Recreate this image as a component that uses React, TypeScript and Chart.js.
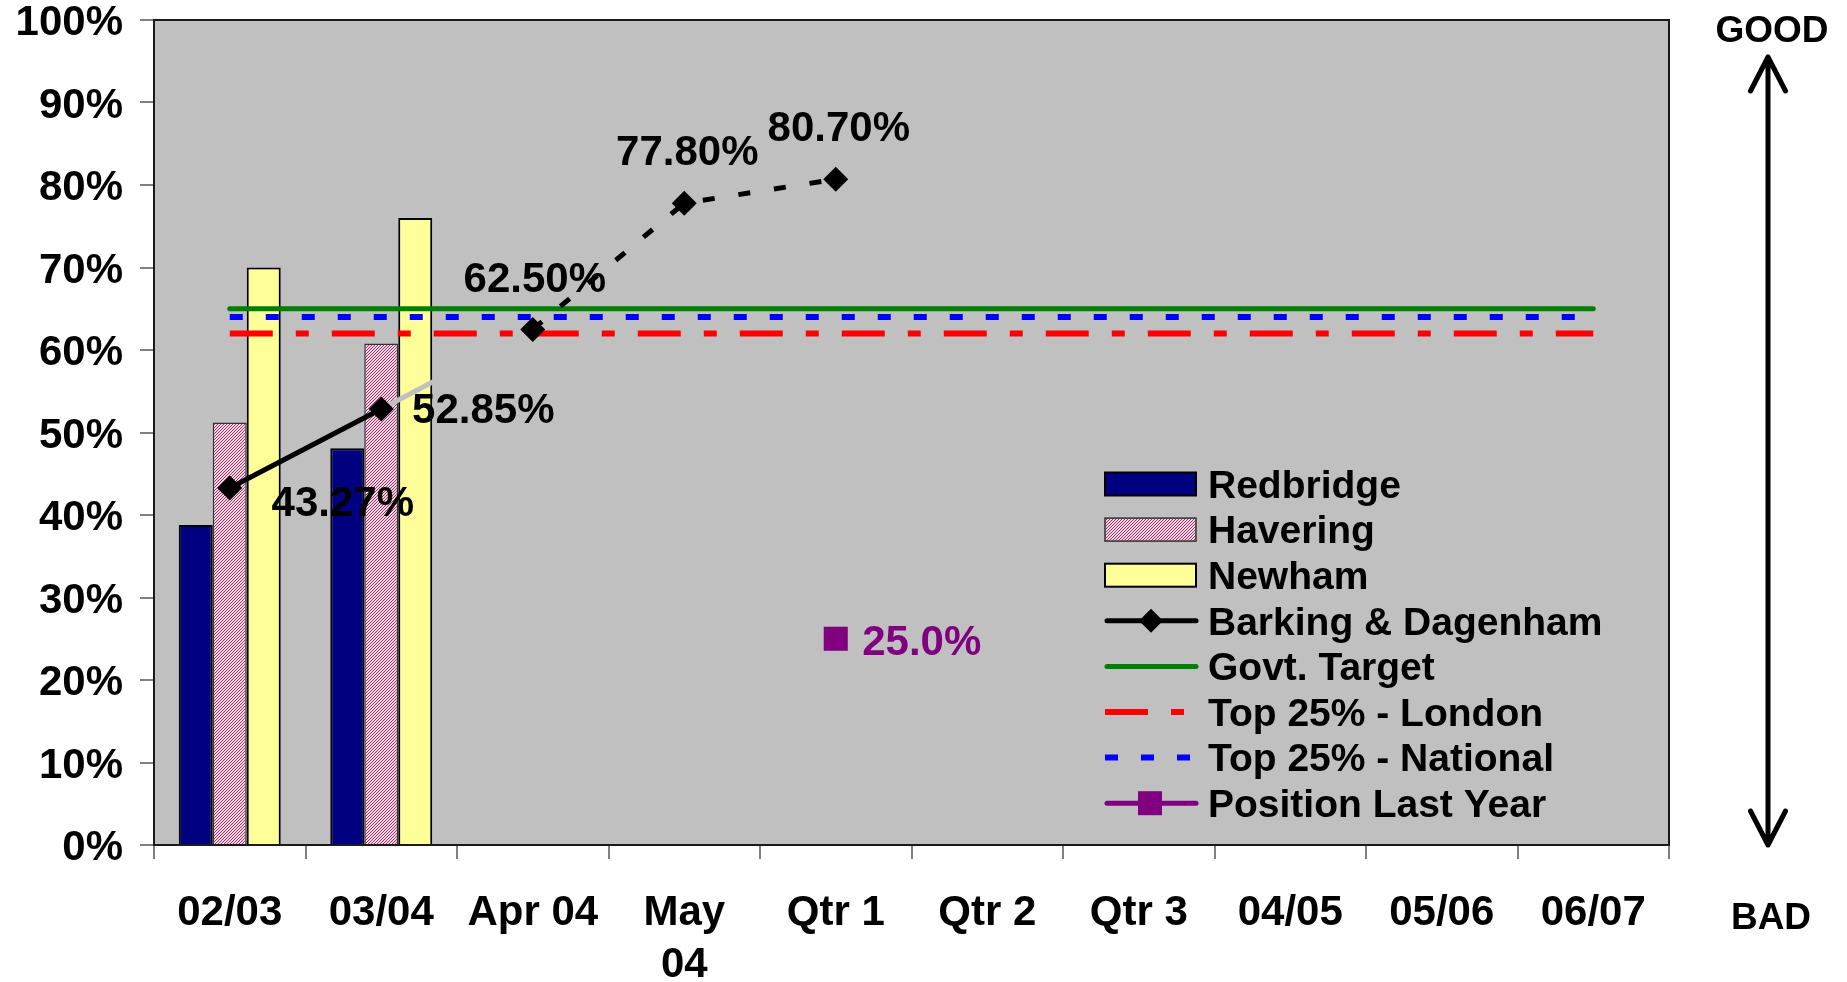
import { useEffect, useRef } from 'react';
import { Chart, registerables } from 'chart.js';

Chart.register(...registerables);

// ---------- data ----------
const categories: (string | string[])[] = ['02/03', '03/04', 'Apr 04', ['May', '04'], 'Qtr 1', 'Qtr 2', 'Qtr 3', '04/05', '05/06', '06/07'];
const redbridge = [38.8, 48.1, null, null, null, null, null, null, null, null];
const havering = [51.2, 60.8, null, null, null, null, null, null, null, null];
const newham = [70.0, 76.0, null, null, null, null, null, null, null, null];
const barking = [43.27, 52.85, 62.5, 77.8, 80.7, null, null, null, null, null];
const barkingLabels = ['43.27%', '52.85%', '62.50%', '77.80%', '80.70%'];
const govtTarget = [65, 65, 65, 65, 65, 65, 65, 65, 65, 65];
const top25London = [62, 62, 62, 62, 62, 62, 62, 62, 62, 62];
const top25National = [64, 64, 64, 64, 64, 64, 64, 64, 64, 64];
const positionLastYear = [null, null, null, null, 25, null, null, null, null, null];
const positionLabel = '25.0%';
const yTicks = [0, 10, 20, 30, 40, 50, 60, 70, 80, 90, 100];

const FONT = "'Liberation Sans', Arial, Helvetica, sans-serif";
const PLOT_BG = '#C0C0C0';

export default function App() {
  const ref = useRef<HTMLCanvasElement>(null);

  useEffect(() => {
    document.body.style.margin = '0';
    document.body.style.overflow = 'hidden';
    const canvas = ref.current!;
    const ctx0 = canvas.getContext('2d')!;

    // Havering hatch pattern
    const tile = document.createElement('canvas');
    tile.width = 3;
    tile.height = 3;
    const t = tile.getContext('2d')!;
    t.fillStyle = '#F4D6E4';
    t.fillRect(0, 0, 3, 3);
    t.fillStyle = '#993366';
    t.fillRect(2, 0, 1, 1);
    t.fillRect(1, 1, 1, 1);
    t.fillRect(0, 2, 1, 1);
    const hatch = ctx0.createPattern(tile, 'repeat')!;

    const TY = 3.5; // text vertical nudge

    const bgPlugin = {
      id: 'plotBg',
      beforeDraw(chart: any) {
        const { ctx, chartArea: a } = chart;
        ctx.save();
        ctx.fillStyle = '#FFFFFF';
        ctx.fillRect(0, 0, chart.width, chart.height);
        ctx.fillStyle = PLOT_BG;
        ctx.fillRect(a.left, a.top, a.right - a.left, a.bottom - a.top);
        ctx.restore();
      },
      beforeDatasetsDraw(chart: any) {
        const { ctx, chartArea: a } = chart;
        ctx.save();
        ctx.strokeStyle = '#1A1A1A';
        ctx.lineWidth = 2;
        ctx.strokeRect(a.left, a.top, a.right - a.left, a.bottom - a.top);
        ctx.restore();
      },
    };

    const labelPlugin = {
      id: 'valueLabels',
      afterDatasetsDraw(chart: any) {
        const { ctx } = chart;
        ctx.save();
        ctx.font = `bold 42px ${FONT}`;
        ctx.textAlign = 'center';
        ctx.textBaseline = 'middle';
        const offs = [[113, 12.5], [102, -1.5], [2, -52], [3, -53], [3, -53]];
        const bMeta = chart.getDatasetMeta(3);
        ctx.fillStyle = '#000000';
        barkingLabels.forEach((txt, i) => {
          const el = bMeta.data[i];
          if (!el || barking[i] == null) return;
          ctx.fillText(txt, el.x + offs[i][0], el.y + offs[i][1] + TY);
        });
        const pMeta = chart.getDatasetMeta(7);
        positionLastYear.forEach((v, i) => {
          if (v == null) return;
          const el = pMeta.data[i];
          ctx.fillStyle = '#800080';
          ctx.fillText(positionLabel, el.x + 86, el.y + 1 + TY);
        });
        ctx.restore();
      },
    };

    const legendPlugin = {
      id: 'customLegend',
      afterDraw(chart: any) {
        const { ctx, chartArea: a } = chart;
        const x0 = a.left + 951;
        const y0 = a.top + 464;
        const step = 45.6;
        const sw = 91;
        ctx.save();
        chart.data.datasets.forEach((ds: any, i: number) => {
          const y = y0 + i * step;
          ctx.setLineDash([]);
          if (ds.type === 'bar') {
            ctx.fillStyle = ds.backgroundColor;
            ctx.fillRect(x0, y - 11.5, sw, 23);
            ctx.strokeStyle = ds.borderColor;
            ctx.lineWidth = ds.borderWidth;
            ctx.strokeRect(x0, y - 11.5, sw, 23);
          } else {
            ctx.strokeStyle = ds.borderColor;
            ctx.lineWidth = ds.borderWidth;
            ctx.lineCap = ds.legendCap || 'butt';
            if (ds.borderDash) ctx.setLineDash(ds.borderDash);
            ctx.beginPath();
            ctx.moveTo(x0 + (ds.legendCap === 'round' ? 2 : 0), y);
            ctx.lineTo(x0 + sw, y);
            ctx.stroke();
            ctx.setLineDash([]);
            if (ds.legendMarker === 'diamond') {
              const cx = x0 + 46;
              ctx.fillStyle = '#000000';
              ctx.beginPath();
              ctx.moveTo(cx - 12, y);
              ctx.lineTo(cx, y - 12);
              ctx.lineTo(cx + 12, y);
              ctx.lineTo(cx, y + 12);
              ctx.closePath();
              ctx.fill();
            } else if (ds.legendMarker === 'square') {
              ctx.fillStyle = ds.pointBackgroundColor;
              ctx.fillRect(x0 + 33, y - 12, 24, 24);
            }
          }
          ctx.fillStyle = '#000000';
          ctx.font = `bold 39px ${FONT}`;
          ctx.textAlign = 'left';
          ctx.textBaseline = 'middle';
          ctx.fillText(ds.label, x0 + 103, y + 3);
        });
        ctx.restore();
      },
    };

    const arrowPlugin = {
      id: 'goodBad',
      afterDraw(chart: any) {
        const { ctx, chartArea: a } = chart;
        const ax = a.right + 99;
        const top = a.top + 37;
        const bot = a.bottom;
        ctx.save();
        ctx.strokeStyle = '#000000';
        ctx.lineWidth = 5;
        ctx.lineCap = 'round';
        ctx.lineJoin = 'round';
        ctx.beginPath();
        ctx.moveTo(ax, top);
        ctx.lineTo(ax, bot);
        ctx.moveTo(ax - 17.5, top + 34);
        ctx.lineTo(ax, top);
        ctx.lineTo(ax + 17.5, top + 34);
        ctx.moveTo(ax - 17.5, bot - 34);
        ctx.lineTo(ax, bot);
        ctx.lineTo(ax + 17.5, bot - 34);
        ctx.stroke();
        ctx.fillStyle = '#000000';
        ctx.font = `bold 37px ${FONT}`;
        ctx.textAlign = 'center';
        ctx.textBaseline = 'middle';
        ctx.fillText('GOOD', a.right + 103, 28 + TY);
        ctx.fillText('BAD', a.right + 102, a.bottom + 70 + TY);
        ctx.restore();
      },
    };

    const tickFont = { family: FONT, size: 42, weight: 'bold' as const, lineHeight: 1.26 };

    const chart = new Chart(canvas, {
      type: 'bar',
      data: {
        labels: categories,
        datasets: [
          { type: 'bar', label: 'Redbridge', data: redbridge, backgroundColor: '#000080', borderColor: '#000000', borderWidth: 2, order: 10 },
          { type: 'bar', label: 'Havering', data: havering, backgroundColor: hatch, borderColor: '#333333', borderWidth: 1.5, order: 11 },
          { type: 'bar', label: 'Newham', data: newham, backgroundColor: '#FFFF99', borderColor: '#000000', borderWidth: 2, order: 12 },
          {
            type: 'line', label: 'Barking & Dagenham', data: barking,
            borderColor: '#000000', backgroundColor: '#000000', borderWidth: 5,
            pointStyle: 'rectRot', pointRadius: 12.5, pointBackgroundColor: '#000000', pointBorderColor: '#000000', pointBorderWidth: 0,
            order: 0, legendMarker: 'diamond', legendCap: 'round',
            segment: {
              borderColor: (c: any) => (c.p0DataIndex === 1 ? PLOT_BG : undefined),
              borderDash: (c: any) => (c.p0DataIndex >= 2 ? [12, 24] : undefined),
            },
          } as any,
          { type: 'line', label: 'Govt. Target', data: govtTarget, borderColor: '#008000', backgroundColor: '#008000', borderWidth: 5, borderCapStyle: 'round', pointRadius: 0, order: 3, legendCap: 'round' } as any,
          { type: 'line', label: 'Top 25% - London', data: top25London, borderColor: '#FF0000', backgroundColor: '#FF0000', borderWidth: 6, borderDash: [43, 23, 13, 23], pointRadius: 0, order: 5 } as any,
          { type: 'line', label: 'Top 25% - National', data: top25National, borderColor: '#0000FF', backgroundColor: '#0000FF', borderWidth: 6, borderDash: [13, 23], pointRadius: 0, order: 4 } as any,
          {
            type: 'line', label: 'Position Last Year', data: positionLastYear,
            borderColor: '#800080', backgroundColor: '#800080', borderWidth: 5,
            pointStyle: 'rect', pointRadius: 17, pointBackgroundColor: '#800080', pointBorderWidth: 0,
            order: 0, legendMarker: 'square', legendCap: 'round',
          } as any,
        ],
      },
      options: {
        responsive: false,
        maintainAspectRatio: false,
        devicePixelRatio: 1,
        animation: false,
        events: [],
        layout: { padding: { left: 0, top: 20, right: 178, bottom: 0 } },
        datasets: { bar: { barPercentage: 1, categoryPercentage: 0.673 } },
        plugins: { legend: { display: false }, tooltip: { enabled: false } },
        scales: {
          x: {
            type: 'category',
            offset: true,
            grid: { display: true, offset: true, drawOnChartArea: false, drawTicks: true, tickLength: 14, color: '#808080', lineWidth: 2 },
            border: { display: false },
            ticks: { color: '#000000', font: tickFont, padding: 27.5, maxRotation: 0, minRotation: 0, autoSkip: false },
            afterFit: (s: any) => { s.height = 137; s.paddingLeft = 0; s.paddingRight = 0; },
          },
          y: {
            type: 'linear',
            min: 0,
            max: 100,
            afterBuildTicks: (s: any) => { s.ticks = yTicks.map((v) => ({ value: v })); },
            ticks: { color: '#000000', font: tickFont, padding: 17, labelOffset: 3.5, callback: (v: any) => `${v}%` },
            grid: { display: true, drawOnChartArea: false, drawTicks: true, tickLength: 14, color: '#808080', lineWidth: 2 },
            border: { display: false },
            afterFit: (s: any) => { s.width = 154; s.paddingTop = 0; s.paddingBottom = 0; },
          },
        },
      } as any,
      plugins: [bgPlugin, labelPlugin, legendPlugin, arrowPlugin],
    });

    return () => chart.destroy();
  }, []);

  return <canvas ref={ref} width={1847} height={982} style={{ display: 'block' }} />;
}
